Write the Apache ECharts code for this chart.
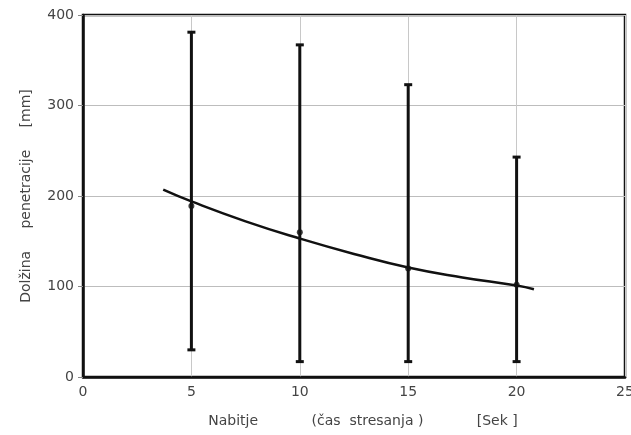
<!DOCTYPE html>
<html>
<head>
<meta charset="utf-8">
<script src="https://cdn.jsdelivr.net/npm/echarts@6/dist/echarts.min.js"></script>
<style>
  html, body { margin: 0; padding: 0; background: #fff; }
  #chart { width: 631px; height: 435px; }
</style>
</head>
<body>
<div id="chart"></div>
<script>
// Shaking time (s) at which penetration was measured
const times = [5, 10, 15, 20];
// Range of penetration length (mm): minimum and maximum
const penMin = [30, 17, 17, 17];
const penMax = [381, 367, 323, 243];
// Mean penetration length (mm)
const penMean = [189, 160, 120, 102];
// Smoothed trend curve: [time, penetration]
const trendX = [3.7, 5, 7.5, 10, 12.5, 15, 17.5, 20, 20.8];
const trendY = [207, 194, 172, 153, 136, 121, 110, 101, 97];
// Axis ticks
const xTicks = [0, 5, 10, 15, 20, 25];
const yTicks = [0, 100, 200, 300, 400];

const ink = '#111';
const labelColor = '#444';
const fontFam = '"DejaVu Sans", sans-serif';

const chart = echarts.init(document.getElementById('chart'), null, { renderer: 'canvas' });

const rangeData = times.map((t, i) => [t, penMin[i], penMax[i]]);
const meanData = times.map((t, i) => [t, penMean[i]]);
const trendData = trendX.map((x, i) => [x, trendY[i]]);

chart.setOption({
  animation: false,
  backgroundColor: '#fff',
  grid: {
    left: 83, right: 6, top: 15, bottom: 58,
    outerBoundsMode: 'none', containLabel: false,
    show: true, borderColor: ink, borderWidth: 2.5, backgroundColor: 'transparent'
  },
  xAxis: {
    type: 'value',
    min: xTicks[0], max: xTicks[xTicks.length - 1], interval: 5,
    name: 'Nabitje            (čas  stresanja )            [Sek ]',
    nameLocation: 'middle', nameGap: 37,
    nameTextStyle: { color: labelColor, fontSize: 14, fontFamily: fontFam, padding: [0, 0, 0, 18] },
    axisLine: { show: true, lineStyle: { color: ink, width: 2.5 } },
    axisTick: { show: false },
    axisLabel: { color: labelColor, fontSize: 14, fontFamily: fontFam, margin: 8 },
    splitLine: { show: true, lineStyle: { color: '#c8c8c8', width: 1 } }
  },
  yAxis: {
    type: 'value',
    min: yTicks[0], max: yTicks[yTicks.length - 1], interval: 100,
    name: 'Dolžina     penetracije     [mm]',
    nameLocation: 'middle', nameGap: 50,
    nameTextStyle: { color: labelColor, fontSize: 14, fontFamily: fontFam },
    axisLine: { show: true, lineStyle: { color: ink, width: 2.5 } },
    axisTick: { show: true, length: 5, lineStyle: { color: '#888' } },
    axisLabel: { color: labelColor, fontSize: 14, fontFamily: fontFam, margin: 9 },
    splitLine: { show: true, lineStyle: { color: '#bdbdbd', width: 1 } }
  },
  series: [
    {
      type: 'custom',
      name: 'range',
      data: rangeData,
      encode: { x: 0, y: [1, 2] },
      renderItem: function (params, api) {
        const x = api.value(0);
        const lo = api.coord([x, api.value(1)]);
        const hi = api.coord([x, api.value(2)]);
        const cap = 4;
        const st = { stroke: ink, lineWidth: 3 };
        return {
          type: 'group',
          children: [
            { type: 'line', shape: { x1: lo[0], y1: lo[1], x2: hi[0], y2: hi[1] }, style: st },
            { type: 'line', shape: { x1: hi[0] - cap, y1: hi[1], x2: hi[0] + cap, y2: hi[1] }, style: st },
            { type: 'line', shape: { x1: lo[0] - cap, y1: lo[1], x2: lo[0] + cap, y2: lo[1] }, style: st }
          ]
        };
      },
      z: 3
    },
    {
      type: 'line',
      name: 'trend',
      data: trendData,
      smooth: true,
      showSymbol: false,
      lineStyle: { color: ink, width: 2.5 },
      z: 4
    },
    {
      type: 'scatter',
      name: 'mean',
      data: meanData,
      symbol: 'circle',
      symbolSize: 6,
      itemStyle: { color: ink },
      z: 5
    }
  ]
});
</script>
</body>
</html>
